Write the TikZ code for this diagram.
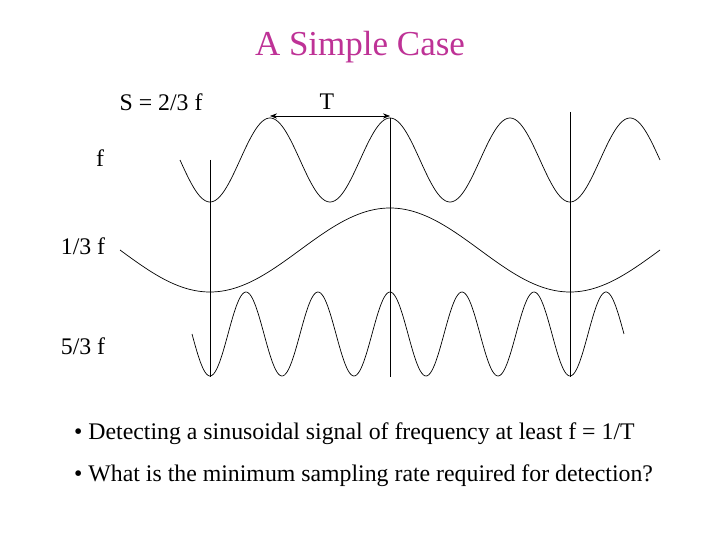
\documentclass[tikz,border=0pt]{standalone}
\usepackage{fontspec}
\setmainfont{Liberation Serif}
\usetikzlibrary{arrows.meta}
\definecolor{titlec}{RGB}{190,50,150}
\begin{document}
\begin{tikzpicture}[x=1pt,y=-1pt,
  lbl/.style={font=\fontsize{23.8}{27}\selectfont,inner sep=0pt},
  wave/.style={line width=0.7pt,samples=300,smooth}]
\useasboundingbox (0,0) rectangle (720,540);
\node[font=\fontsize{35}{40}\selectfont,text=titlec,inner sep=0pt] (title) at (360,47) {A Simple Case};
\node[lbl] (s) at (161,102) {S = 2/3 f};
\node[lbl] (t) at (327,102) {T};
\node[lbl] (f) at (100,158) {f};
\node[lbl] (f3) at (83,246) {1/3 f};
\node[lbl] (f53) at (83,346) {5/3 f};
\node[lbl,anchor=west] (b1) at (74,434) {\textbullet{} Detecting a sinusoidal signal of frequency at least f = 1/T};
\node[lbl,anchor=west] (b2) at (74,476) {\textbullet{} What is the minimum sampling rate required for detection?};
\coordinate (a1) at (270,116);
\coordinate (a2) at (390,116);
\draw[{Stealth[length=7pt]}-{Stealth[length=7pt]},line width=0.7pt] (a1) -- (a2);
\foreach \xx/\yy in {210/160,390/118,570/112}
  \draw[line width=0.7pt] (\xx,\yy) -- (\xx,377);
\draw[wave] plot[domain=180:660] (\x,{160-42*cos(3*(\x-270))});
\draw[wave] plot[domain=120:660] (\x,{250+42*cos(\x-210)});
\draw[wave] plot[domain=192:624] (\x,{334+42*cos(5*(\x-210))});
\end{tikzpicture}
\end{document}
